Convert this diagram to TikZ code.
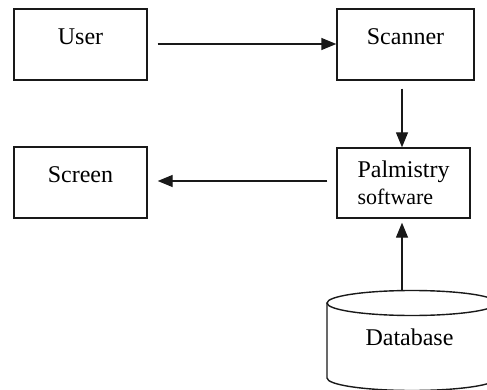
\documentclass[tikz,border=0pt]{standalone}
\usepackage{fontspec}
\setmainfont{Liberation Serif}
\usetikzlibrary{arrows.meta,calc}
\begin{document}
\begin{tikzpicture}[x=1pt,y=-1pt,
  box/.style={draw=black!90, line width=1.4pt, inner sep=0pt, minimum width=133pt, minimum height=71pt,
    font=\fontsize{24}{25}\selectfont, text height=16pt, text depth=16pt},
  arr/.style={draw=black!90, line width=1.4pt, -{Triangle[length=15pt,width=12pt]}},
  cyl/.style={draw=black!90, line width=1.4pt}]
\fill[white] (0,0) rectangle (487,390);
\useasboundingbox (0,0) rectangle (487,390);
\node[box] (user) at (80.5,44.5) {User\hspace{11pt}};
\node[box, minimum width=137pt] (scan) at (405.5,44.5) {Scanner\hspace{11pt}};
\node[box] (screen) at (80.5,182.5) {Screen\hspace{6pt}};
\node[box, minimum height=70pt, align=left, text height=, text depth=] (pal) at (403.5,183)
  {Palmistry\\[2pt]{\fontsize{22}{25}\selectfont software}};
% database cylinder
\coordinate (colx) at (402,0);
\coordinate (r1) at (0,44);
\coordinate (r2) at (0,181);
\begin{scope}
\clip (0,0) rectangle (487,390);
\fill[white] (327,303) -- (327,378) arc[start angle=180,end angle=360,x radius=85pt,y radius=12.5pt] -- (497,303) -- cycle;
\draw[cyl] (412,303) ellipse[x radius=85pt, y radius=12.5pt];
\draw[cyl] (327,303) -- (327,378) arc[start angle=180,end angle=360,x radius=85pt,y radius=12.5pt] -- (497,303);
\end{scope}
\coordinate (dbtop) at (402,290.5);
\node[anchor=base, inner sep=0pt, font=\fontsize{24}{25}\selectfont] (db) at (409.5,345) {Database};
% connectors
\draw[arr] ($(user.east |- r1)+(10,0)$) -- (scan.west |- r1);
\draw[arr] ($(scan.south -| colx)+(0,8)$) -- (pal.north -| colx);
\draw[arr] ($(pal.west |- r2)+(-9,0)$) -- ($(screen.east |- r2)+(10,0)$);
\draw[arr] (dbtop) -- ($(pal.south -| colx)+(0,4)$);
\end{tikzpicture}
\end{document}
